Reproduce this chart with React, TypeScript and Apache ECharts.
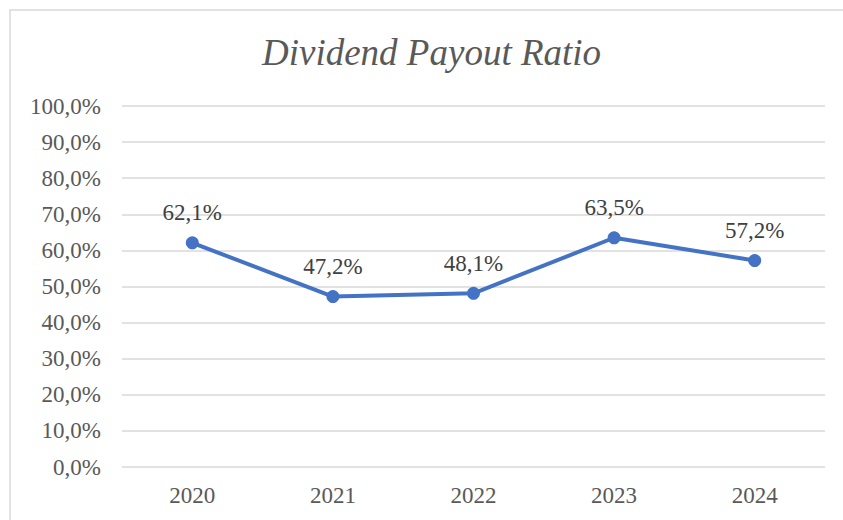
import React, { useEffect, useRef } from "react";
import * as echarts from "echarts";

const categories = ["2020", "2021", "2022", "2023", "2024"];
const payoutRatio = [62.1, 47.2, 48.1, 63.5, 57.2];
const titleText = "Dividend Payout Ratio";

const fmt = (v: number) => v.toFixed(1).replace(".", ",") + "%";

export default function App() {
  const ref = useRef<HTMLDivElement>(null);
  useEffect(() => {
    if (!ref.current) return;
    const chart = echarts.init(ref.current, null, { renderer: "svg" });
    const font = "Liberation Serif";
    chart.setOption({
      animation: false,
      backgroundColor: "#ffffff",
      textStyle: { fontFamily: font },
      title: {
        text: titleText,
        left: 262,
        top: 34,
        padding: 0,
        textStyle: {
          fontFamily: font,
          fontStyle: "italic",
          fontWeight: "normal",
          fontSize: 37,
          color: "#595959",
        },
      },
      graphic: [
        {
          type: "rect",
          shape: { x: 10, y: 10, width: 900, height: 600 },
          style: { fill: "none", stroke: "#D9D9D9", lineWidth: 1.5 },
          silent: true,
        },
      ],
      grid: { left: 122, right: 18, top: 106, bottom: 53 },
      xAxis: {
        type: "category",
        data: categories,
        boundaryGap: true,
        axisLine: { show: false },
        axisTick: { show: false },
        axisLabel: {
          fontFamily: font,
          fontSize: 23,
          color: "#595959",
          margin: 17,
        },
      },
      yAxis: {
        type: "value",
        min: 0,
        max: 100,
        interval: 10,
        axisLine: { show: false },
        axisTick: { show: false },
        splitLine: { lineStyle: { color: "#D9D9D9", width: 1.5 } },
        axisLabel: {
          fontFamily: font,
          fontSize: 23,
          color: "#595959",
          margin: 21,
          formatter: (v: number) => fmt(v),
        },
      },
      series: [
        {
          type: "line",
          data: payoutRatio,
          symbol: "circle",
          symbolSize: 13,
          lineStyle: { color: "#4472C4", width: 4 },
          itemStyle: { color: "#4472C4" },
          label: {
            show: true,
            position: "top",
            distance: 12,
            fontFamily: font,
            fontSize: 23,
            color: "#404040",
            formatter: (p: any) => fmt(p.value),
          },
        },
      ],
    });
    return () => chart.dispose();
  }, []);
  return (
    <div
      ref={ref}
      style={{ position: "fixed", left: 0, top: 0, width: 843, height: 520 }}
    />
  );
}
